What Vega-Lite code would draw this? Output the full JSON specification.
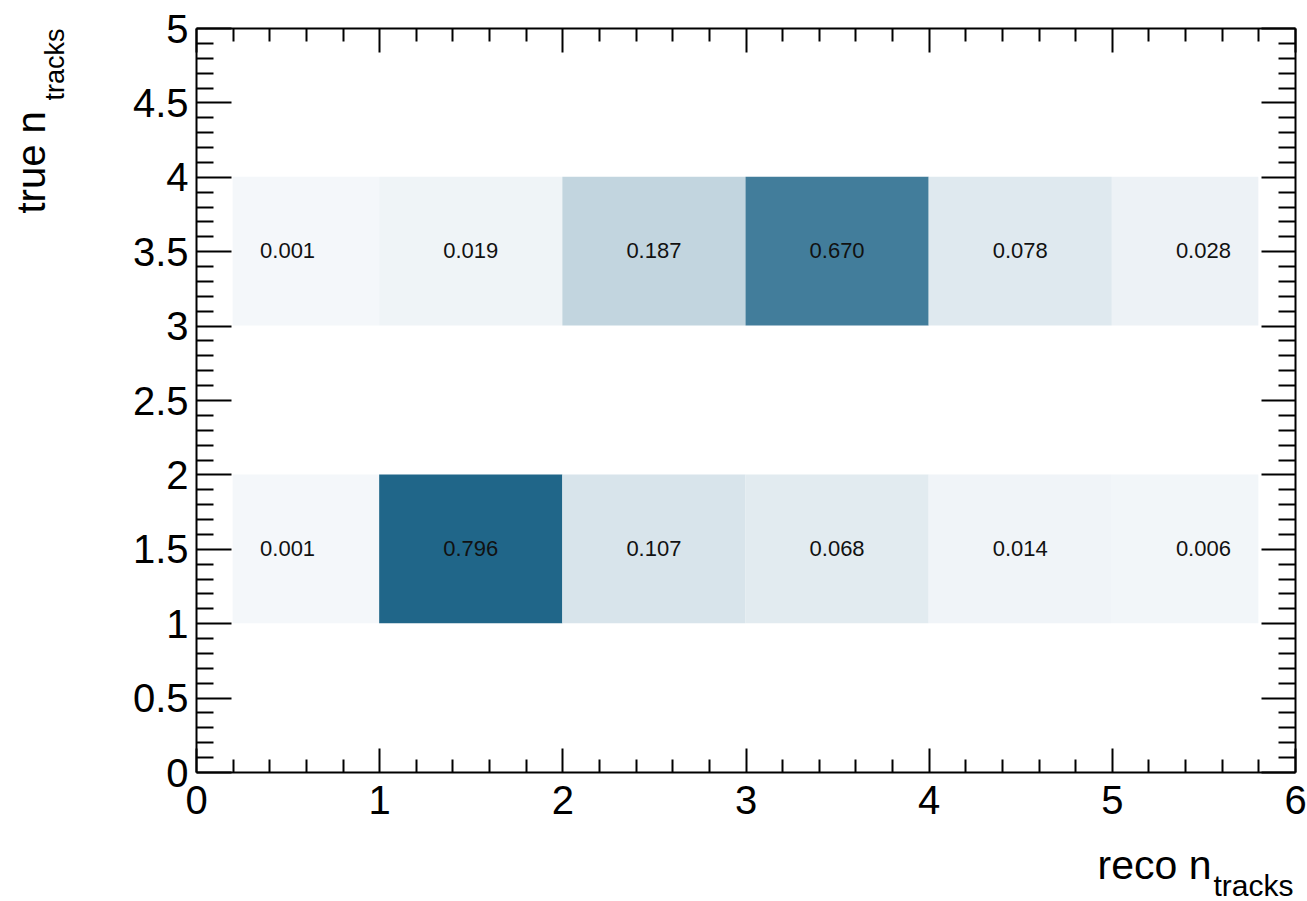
{
  "$schema": "https://vega.github.io/schema/vega-lite/v6.json",
  "width": 1099,
  "height": 744,
  "autosize": {"type": "none"},
  "padding": {"left": 196, "top": 28, "right": 12, "bottom": 129},
  "background": "white",
  "config": {
    "view": {"stroke": null},
    "font": "Liberation Sans",
    "axis": {
      "domainColor": "#000",
      "domainWidth": 2,
      "tickColor": "#000",
      "tickWidth": 2,
      "grid": false,
      "labelFont": "Liberation Sans",
      "titleFont": "Liberation Sans",
      "labelColor": "#000",
      "titleColor": "#000",
      "titleFontWeight": "normal",
      "labelFlush": false,
      "labelOverlap": false,
      "labelBound": false
    }
  },
  "datasets": {
    "cells": [
      {"reco": 0.5, "reco_lo": 0.2, "reco_hi": 1, "truth": 3.5, "true_lo": 3, "true_hi": 4, "frac": 0.001},
      {"reco": 1.5, "reco_lo": 1, "reco_hi": 2, "truth": 3.5, "true_lo": 3, "true_hi": 4, "frac": 0.019},
      {"reco": 2.5, "reco_lo": 2, "reco_hi": 3, "truth": 3.5, "true_lo": 3, "true_hi": 4, "frac": 0.187},
      {"reco": 3.5, "reco_lo": 3, "reco_hi": 4, "truth": 3.5, "true_lo": 3, "true_hi": 4, "frac": 0.670},
      {"reco": 4.5, "reco_lo": 4, "reco_hi": 5, "truth": 3.5, "true_lo": 3, "true_hi": 4, "frac": 0.078},
      {"reco": 5.5, "reco_lo": 5, "reco_hi": 5.8, "truth": 3.5, "true_lo": 3, "true_hi": 4, "frac": 0.028},
      {"reco": 0.5, "reco_lo": 0.2, "reco_hi": 1, "truth": 1.5, "true_lo": 1, "true_hi": 2, "frac": 0.001},
      {"reco": 1.5, "reco_lo": 1, "reco_hi": 2, "truth": 1.5, "true_lo": 1, "true_hi": 2, "frac": 0.796},
      {"reco": 2.5, "reco_lo": 2, "reco_hi": 3, "truth": 1.5, "true_lo": 1, "true_hi": 2, "frac": 0.107},
      {"reco": 3.5, "reco_lo": 3, "reco_hi": 4, "truth": 1.5, "true_lo": 1, "true_hi": 2, "frac": 0.068},
      {"reco": 4.5, "reco_lo": 4, "reco_hi": 5, "truth": 1.5, "true_lo": 1, "true_hi": 2, "frac": 0.014},
      {"reco": 5.5, "reco_lo": 5, "reco_hi": 5.8, "truth": 1.5, "true_lo": 1, "true_hi": 2, "frac": 0.006}
    ]
  },
  "data": {"name": "cells"},
  "layer": [
    {
      "mark": {"type": "rect"},
      "encoding": {
        "x": {
          "field": "reco_lo",
          "type": "quantitative",
          "scale": {"domain": [0, 6], "nice": false, "zero": false},
          "axis": {
            "orient": "bottom",
            "values": [0, 0.2, 0.4, 0.6, 0.8, 1, 1.2, 1.4, 1.6, 1.8, 2, 2.2, 2.4, 2.6, 2.8, 3, 3.2, 3.4, 3.6, 3.8, 4, 4.2, 4.4, 4.6, 4.8, 5, 5.2, 5.4, 5.6, 5.8, 6],
            "tickSize": {"condition": {"test": "abs(datum.value - round(datum.value)) < 1e-6", "value": -24}, "value": -13},
            "labelExpr": "abs(datum.value - round(datum.value)) < 1e-6 ? format(datum.value, 'd') : ''",
            "labelFontSize": 40,
            "labelPadding": 33,
            "title": "reco n",
            "titleFontSize": 41,
            "titleX": 901,
            "titleY": 106,
            "titleAlign": "left",
            "titleBaseline": "alphabetic",
            "titleAngle": 0
          }
        },
        "x2": {"field": "reco_hi"},
        "y": {
          "field": "true_lo",
          "type": "quantitative",
          "scale": {"domain": [0, 5], "nice": false, "zero": false},
          "axis": {
            "orient": "left",
            "values": [0, 0.1, 0.2, 0.3, 0.4, 0.5, 0.6, 0.7, 0.8, 0.9, 1, 1.1, 1.2, 1.3, 1.4, 1.5, 1.6, 1.7, 1.8, 1.9, 2, 2.1, 2.2, 2.3, 2.4, 2.5, 2.6, 2.7, 2.8, 2.9, 3, 3.1, 3.2, 3.3, 3.4, 3.5, 3.6, 3.7, 3.8, 3.9, 4, 4.1, 4.2, 4.3, 4.4, 4.5, 4.6, 4.7, 4.8, 4.9, 5],
            "tickSize": {"condition": {"test": "abs(datum.value * 2 - round(datum.value * 2)) < 1e-6", "value": -35}, "value": -17},
            "labelExpr": "abs(datum.value * 2 - round(datum.value * 2)) < 1e-6 ? format(datum.value, '~g') : ''",
            "labelFontSize": 40,
            "labelPadding": 43,
            "labelOffset": 2,
            "title": "true n",
            "titleFontSize": 40,
            "titleAngle": -90,
            "titleX": -152,
            "titleY": 185,
            "titleAlign": "left",
            "titleBaseline": "alphabetic"
          }
        },
        "y2": {"field": "true_hi"},
        "color": {
          "field": "frac",
          "type": "quantitative",
          "scale": {"type": "linear", "interpolate": "rgb", "domain": [0, 0.796], "range": ["#F4F7FA", "#206689"]},
          "legend": null
        }
      }
    },
    {
      "mark": {"type": "text", "fontSize": 22, "color": "#111", "font": "Liberation Sans"},
      "encoding": {
        "x": {
          "field": "reco",
          "type": "quantitative",
          "axis": {
            "orient": "top",
            "values": [0, 0.2, 0.4, 0.6, 0.8, 1, 1.2, 1.4, 1.6, 1.8, 2, 2.2, 2.4, 2.6, 2.8, 3, 3.2, 3.4, 3.6, 3.8, 4, 4.2, 4.4, 4.6, 4.8, 5, 5.2, 5.4, 5.6, 5.8, 6],
            "tickSize": {"condition": {"test": "abs(datum.value - round(datum.value)) < 1e-6", "value": -24}, "value": -13},
            "labels": false,
            "title": "tracks",
            "titleFontSize": 30,
            "titleX": 1017,
            "titleY": 867,
            "titleAlign": "left",
            "titleBaseline": "alphabetic",
            "titleAngle": 0
          }
        },
        "y": {
          "field": "truth",
          "type": "quantitative",
          "axis": {
            "orient": "right",
            "values": [0, 0.1, 0.2, 0.3, 0.4, 0.5, 0.6, 0.7, 0.8, 0.9, 1, 1.1, 1.2, 1.3, 1.4, 1.5, 1.6, 1.7, 1.8, 1.9, 2, 2.1, 2.2, 2.3, 2.4, 2.5, 2.6, 2.7, 2.8, 2.9, 3, 3.1, 3.2, 3.3, 3.4, 3.5, 3.6, 3.7, 3.8, 3.9, 4, 4.1, 4.2, 4.3, 4.4, 4.5, 4.6, 4.7, 4.8, 4.9, 5],
            "tickSize": {"condition": {"test": "abs(datum.value * 2 - round(datum.value * 2)) < 1e-6", "value": -34}, "value": -17},
            "labels": false,
            "title": "tracks",
            "titleFontSize": 27,
            "titleAngle": -90,
            "titleX": -1232,
            "titleY": 72,
            "titleAlign": "left",
            "titleBaseline": "alphabetic"
          }
        },
        "text": {"field": "frac", "type": "quantitative", "format": ".3f"}
      }
    }
  ],
  "resolve": {"axis": {"x": "independent", "y": "independent"}}
}
